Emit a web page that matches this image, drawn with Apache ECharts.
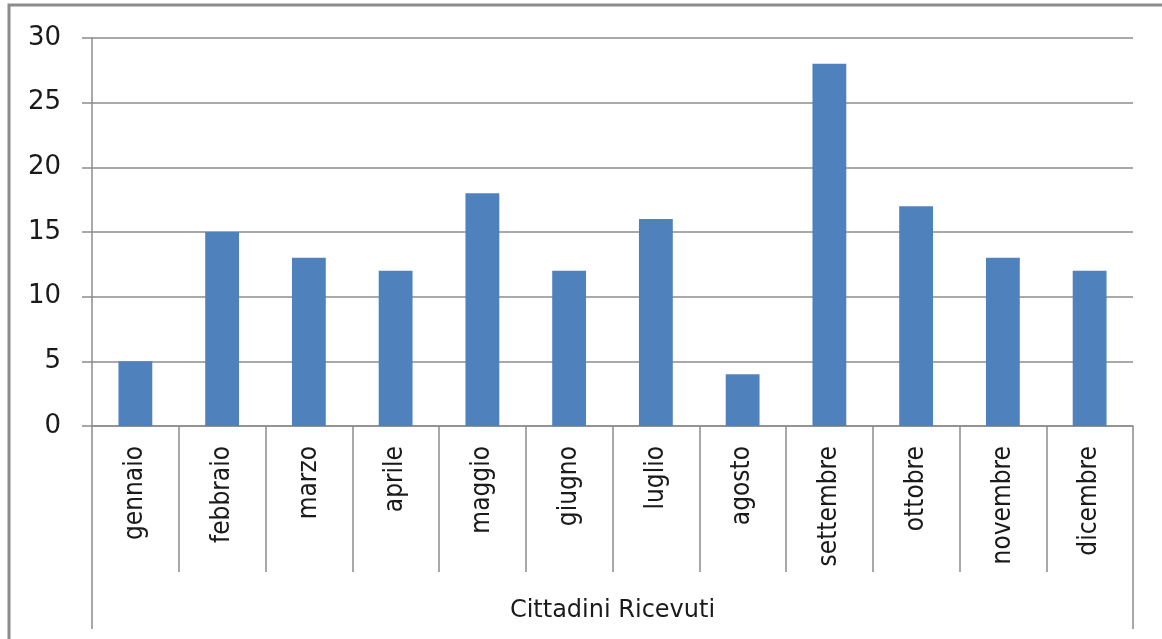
<!DOCTYPE html>
<html><head><meta charset="utf-8">
<script src="https://cdn.jsdelivr.net/npm/echarts@6/dist/echarts.min.js"></script>
<style>html,body{margin:0;padding:0;background:#fff}#c{width:1162px;height:639px}</style>
</head><body><div id="c"></div>
<script>
const categories = ['gennaio','febbraio','marzo','aprile','maggio','giugno','luglio','agosto','settembre','ottobre','novembre','dicembre'];
const values = [5,15,13,12,18,12,16,4,28,17,13,12];
const groupLabel = ['Cittadini Ricevuti'];
const yTicks = {min:0, max:30, interval:5};

const chart = echarts.init(document.getElementById('c'));
const gray = '#8c8c8c';
const wideFont = '"DejaVu Sans", "Liberation Sans", sans-serif';
const narrowFont = '"DejaVu Sans Condensed", "Liberation Sans", sans-serif';
chart.setOption({
  animation:false,
  graphic:[{type:'rect', shape:{x:9,y:5,width:1200,height:700}, style:{fill:'none', stroke:gray, lineWidth:3}, silent:true}],
  grid:{left:92, right:29, top:38, bottom:213},
  xAxis:[{
    type:'category', data:categories, position:'bottom',
    axisLine:{lineStyle:{color:gray, width:1.5}},
    axisTick:{show:true, alignWithLabel:false, length:146, lineStyle:{color:gray, width:1.5}},
    axisLabel:{rotate:90, margin:20, color:'#1a1a1a', fontSize:26, fontFamily:narrowFont, interval:0}
  },{
    type:'category', data:groupLabel, position:'bottom',
    axisLine:{show:false},
    axisTick:{show:true, length:203, lineStyle:{color:gray, width:1.5}},
    axisLabel:{margin:173, color:'#1a1a1a', fontSize:24, fontFamily:wideFont}
  }],
  yAxis:{
    type:'value', min:yTicks.min, max:yTicks.max, interval:yTicks.interval,
    axisLine:{show:true, lineStyle:{color:gray, width:1.5}},
    axisTick:{show:true, length:10, lineStyle:{color:gray, width:1.5}},
    axisLabel:{margin:31, color:'#1a1a1a', fontSize:26, fontFamily:wideFont},
    splitLine:{lineStyle:{color:gray, width:1.5}}
  },
  series:[{type:'bar', data:values, barWidth:'39%', itemStyle:{color:'#4F81BD'}, xAxisIndex:0}]
});
</script></body></html>
